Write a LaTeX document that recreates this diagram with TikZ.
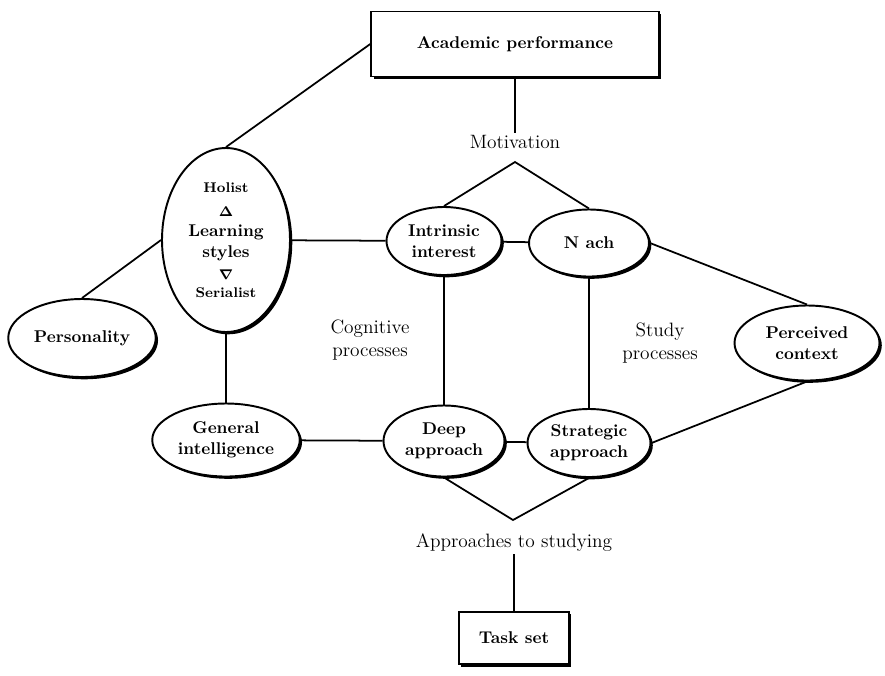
\documentclass[tikz,border=0pt]{standalone}
\usepackage{amsmath, amssymb}
\usepackage{tikz}
\usetikzlibrary{positioning, shapes.geometric, shadows}

\begin{document}
\begin{tikzpicture}[
    ovalbox/.style={ellipse, draw, line width=1.1pt, fill=white, inner sep=0pt, align=center, font=\fontsize{9.7}{12}\selectfont\bfseries, drop shadow={shadow xshift=1.3pt, shadow yshift=-1.3pt, fill=black, opacity=1}},
    rectbox/.style={rectangle, draw, line width=1.1pt, fill=white, inner sep=0pt, font=\fontsize{9.7}{12}\selectfont\bfseries, drop shadow={shadow xshift=1.3pt, shadow yshift=-1.3pt, fill=black, opacity=1}},
    grouplabel/.style={align=center, inner sep=1pt, font=\fontsize{11}{13}\selectfont},
    link/.style={line width=1pt}
]
\useasboundingbox (0,0) rectangle (17.7,-13.5);

% Top: performance and motivation
\node[rectbox, minimum width=5.75cm, minimum height=1.3cm] (acad) at (10.3,-0.88) {Academic performance};
\node[grouplabel] (mot) at (10.3,-2.84) {Motivation};
\coordinate (motapex) at (10.3,-3.24);

% Left column
\node[ovalbox, minimum width=2.56cm, minimum height=3.68cm] (ls) at (4.52,-4.8)
    {{\fontsize{8}{10}\selectfont Holist}\\[2pt] {\footnotesize$\boldsymbol{\Delta}$}\\[-1pt] Learning\\ styles\\[1pt] {\footnotesize$\boldsymbol{\nabla}$}\\[-2pt] {\fontsize{8}{10}\selectfont Serialist}};
\node[ovalbox, minimum width=2.95cm, minimum height=1.56cm] (pers) at (1.64,-6.76) {Personality};
\node[ovalbox, minimum width=2.95cm, minimum height=1.46cm] (gi) at (4.52,-8.8) {General\\ intelligence};

% Middle: motivation and approaches
\node[ovalbox, minimum width=2.3cm, minimum height=1.36cm] (intr) at (8.88,-4.82) {Intrinsic\\ interest};
\node[ovalbox, minimum width=2.4cm, minimum height=1.34cm] (nach) at (11.78,-4.86) {N ach};
\node[ovalbox, minimum width=2.42cm, minimum height=1.42cm] (deep) at (8.88,-8.82) {Deep\\ approach};
\node[ovalbox, minimum width=2.46cm, minimum height=1.36cm] (strat) at (11.78,-8.86) {Strategic\\ approach};
\node[grouplabel] (cog) at (7.4,-6.8) {Cognitive\\ processes};
\node[grouplabel] (study) at (13.2,-6.86) {Study\\ processes};

% Right
\node[ovalbox, minimum width=2.9cm, minimum height=1.5cm] (perc) at (16.14,-6.86) {Perceived\\ context};

% Bottom: approaches and task
\coordinate (appapex) at (10.26,-10.4);
\node[grouplabel] (app) at (10.28,-10.86) {Approaches to studying};
\node[rectbox, minimum width=2.2cm, minimum height=1.05cm] (task) at (10.28,-12.76) {Task set};

% Connections
\draw[link] (acad.west) -- (ls.north);
\draw[link] (acad) -- (mot);
\draw[link] (intr.north) -- (motapex) -- (nach.north);
\draw[link] (ls.west) -- (pers.north);
\draw[link] (ls) -- (intr);
\draw[link] (ls) -- (gi);
\draw[link] (intr) -- (nach);
\draw[link] (nach.east) -- (perc.north);
\draw[link] (intr) -- (deep);
\draw[link] (nach) -- (strat);
\draw[link] (gi) -- (deep);
\draw[link] (deep) -- (strat);
\draw[link] (strat.east) -- (perc.south);
\draw[link] (deep.south) -- (appapex) -- (strat.south);
\draw[link] (app) -- (task);
\end{tikzpicture}
\end{document}
